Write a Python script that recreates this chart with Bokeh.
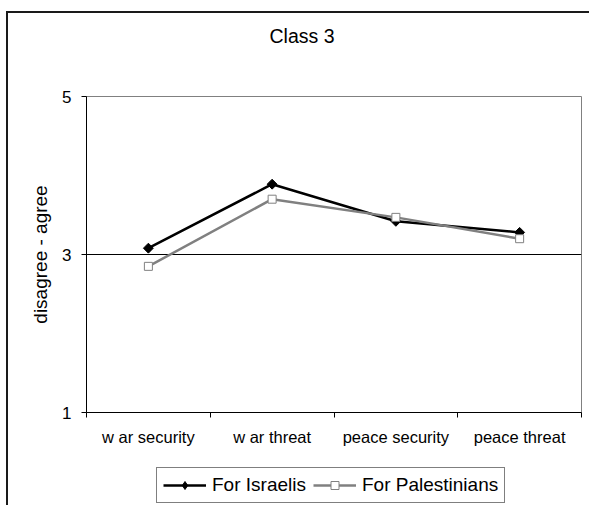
import numpy as np
from bokeh.plotting import figure
from bokeh.layouts import column
from bokeh.models import Range1d, FixedTicker, Legend, LegendItem
from bokeh.embed import file_html
from bokeh.resources import INLINE

categories = ["w ar security", "w ar threat", "peace security", "peace threat"]
israelis = [3.08, 3.89, 3.42, 3.28]
palestinians = [2.85, 3.70, 3.47, 3.20]
y_ticks = [1, 3, 5]

FONT = "Liberation Sans"
xs = [i + 0.5 for i in range(len(categories))]
bounds = list(range(len(categories) + 1))

ISR = dict(line_color="black", line_width=2.5)
ISR_M = dict(marker="square", angle=np.pi / 4, size=7, fill_color="black", line_color="black")
ISR_LEG_M = dict(marker="diamond", size=11, fill_color="black", line_color="black")
PAL = dict(line_color="#808080", line_width=2.5)
PAL_M = dict(marker="square", size=8, fill_color="white", line_color="#808080", line_width=1)

fig = figure(width=581, height=450, output_backend="svg", toolbar_location=None,
             x_range=Range1d(0, len(categories)), y_range=Range1d(1, 5),
             min_border_left=78, min_border_right=8, min_border_top=83, min_border_bottom=51)

# title text box made three lines tall so that "Class 3" sits high above the plot area
fig.title.text = "Class 3\n\n"
fig.title.text_font = FONT
fig.title.text_font_size = "19.5px"
fig.title.text_font_style = "normal"
fig.title.text_color = "black"
fig.title.align = "left"
fig.title.offset = 183
fig.title.vertical_align = "top"
fig.title.standoff = 8

fig.outline_line_color = "#808080"
fig.outline_line_width = 1
fig.background_fill_color = "white"
fig.border_fill_color = "white"

fig.xgrid.visible = False
fig.ygrid.ticker = FixedTicker(ticks=[3])
fig.ygrid.grid_line_color = "black"
fig.ygrid.grid_line_width = 1

ya = fig.yaxis[0]
ya.ticker = FixedTicker(ticks=y_ticks)
ya.axis_label = "disagree - agree"
ya.axis_label_text_font = FONT
ya.axis_label_text_font_size = "19px"
ya.axis_label_text_font_style = "normal"
ya.axis_label_text_color = "black"
ya.axis_label_standoff = 8
ya.major_label_text_font = FONT
ya.major_label_text_font_size = "17px"
ya.major_label_text_color = "black"
ya.major_label_standoff = 10
ya.major_tick_in = 0
ya.major_tick_out = 5
ya.major_tick_line_color = "black"
ya.minor_tick_line_color = None
ya.axis_line_color = "black"

xa = fig.xaxis[0]
xa.ticker = FixedTicker(ticks=xs, minor_ticks=bounds)
xa.major_label_overrides = {x: c for x, c in zip(xs, categories)}
xa.major_label_text_font = FONT
xa.major_label_text_font_size = "16.5px"
xa.major_label_text_color = "black"
xa.major_label_standoff = 10
xa.major_tick_in = 0
xa.major_tick_out = 0
xa.minor_tick_in = 0
xa.minor_tick_out = 5
xa.minor_tick_line_color = "black"
xa.axis_line_color = "black"

fig.line(xs, israelis, **ISR)
fig.scatter(xs, israelis, **ISR_M)
fig.line(xs, palestinians, **PAL)
fig.scatter(xs, palestinians, **PAL_M)

# legend strip below the chart (same series; its view range keeps the marks out of sight)
leg = figure(width=581, height=42, output_backend="svg", toolbar_location=None,
             x_range=Range1d(0, len(categories)), y_range=Range1d(10, 11),
             x_axis_type=None, y_axis_type=None,
             min_border_left=0, min_border_right=0, min_border_top=0, min_border_bottom=0)
leg.outline_line_color = None
leg.grid.visible = False
leg.background_fill_color = "white"
leg.border_fill_color = "white"
l1 = leg.line(xs, israelis, **ISR)
s1 = leg.scatter(xs, israelis, **ISR_LEG_M)
l2 = leg.line(xs, palestinians, **PAL)
s2 = leg.scatter(xs, palestinians, **PAL_M)

legend = Legend(items=[LegendItem(label="For Israelis", renderers=[l1, s1]),
                       LegendItem(label="For Palestinians", renderers=[l2, s2])],
                orientation="horizontal", location=(70, 2))
legend.label_text_font = FONT
legend.label_text_font_size = "19px"
legend.label_text_color = "black"
legend.border_line_color = "black"
legend.border_line_width = 1
legend.padding = 6
legend.spacing = 7
legend.margin = 0
legend.glyph_width = 43
legend.glyph_height = 20
legend.label_standoff = 6
legend.label_height = 20
legend.background_fill_alpha = 1
leg.add_layout(legend, "center")

p = column(fig, leg, spacing=0)
p.styles = {"margin-left": "6px", "margin-top": "11px",
            "border-left": "2px solid #1a1a1a", "border-top": "2px solid #1a1a1a"}

open("out.html", "w").write(file_html(p, INLINE))
